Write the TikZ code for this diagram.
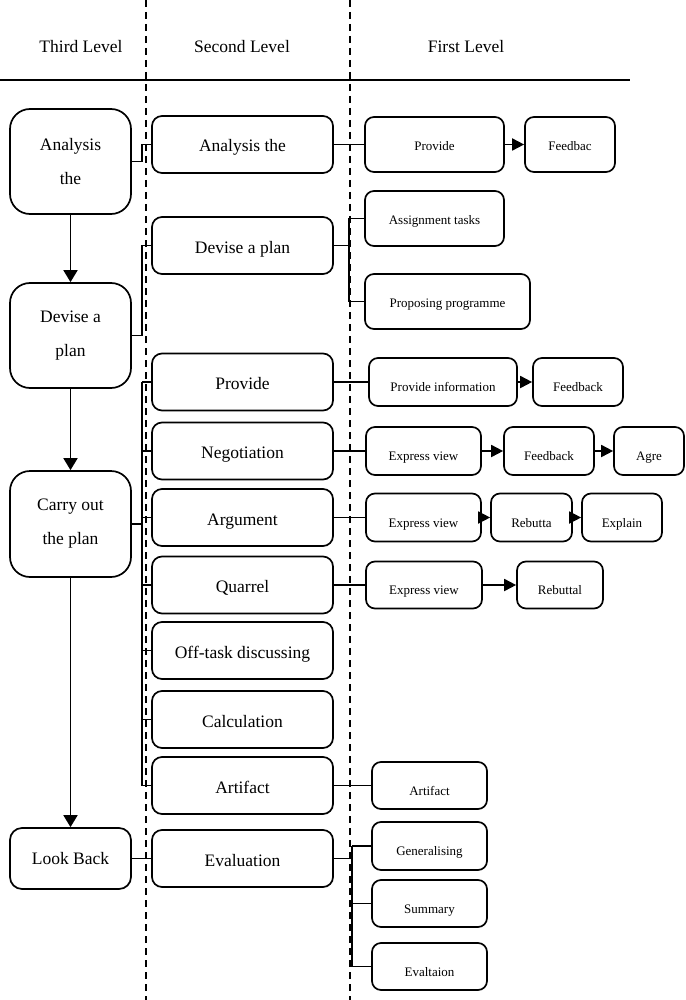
\documentclass[tikz,border=0pt]{standalone}
\usepackage{fontspec}
\setmainfont{Liberation Serif}
\usetikzlibrary{arrows.meta}
\begin{document}
\begin{tikzpicture}[x=1pt,y=-1pt,
  box/.style={draw, line width=1.7pt, rounded corners=10pt, inner sep=0pt},
  tbox/.style={box, rounded corners=20pt, minimum width=121pt, align=center, font=\fontsize{17.5}{34}\selectfont},
  sbox/.style={box, minimum width=181pt, minimum height=57pt, font=\fontsize{17.5}{21}\selectfont, text height=19pt, text depth=4pt},
  fbox/.style={box, rounded corners=9pt, minimum height=55pt, font=\fontsize{13}{16}\selectfont, text height=14.6pt, text depth=3pt},
  fboxlow/.style={fbox, minimum height=48pt, text height=22.6pt},
  ln/.style={line width=1.8pt},
  arr/.style={ln, -{Triangle[length=12pt,width=12pt]}},
  bigarr/.style={ln, -{Triangle[length=12pt,width=14pt]}},
  divider/.style={line width=1.4pt, dash pattern=on 7pt off 5pt},
  hdr/.style={font=\fontsize{17.5}{21}\selectfont, anchor=base, inner sep=0pt}
]
\useasboundingbox (0,0) rectangle (685,1000);

% dividers and header
\draw[divider] (146,0) -- (146,1000);
\draw[divider] (350,0) -- (350,1000);
\draw[ln] (0,80) -- (630,80);
\node[hdr] (h1) at (81,53) {Third Level};
\node[hdr] (h2) at (242,53) {Second Level};
\node[hdr] (h3) at (466,53) {First Level};

% third level
\node[tbox, minimum height=105pt] (t1) at (70.5,161.5) {Analysis\\the};
\node[tbox, minimum height=105pt] (t2) at (70.5,335.5) {Devise a\\plan};
\node[tbox, minimum height=106pt] (t3) at (70.5,524) {Carry out\\the plan};
\node[tbox, minimum height=61pt, rounded corners=12pt] (t4) at (70.5,858.5) {Look Back};

\draw[bigarr] (t1.south) -- (t2.north);
\draw[bigarr] (t2.south) -- (t3.north);
\draw[bigarr] (t3.south) -- (t4.north);

% second level
\node[sbox] (s1) at (242.5,144.5) {Analysis the};
\node[sbox] (s2) at (242.5,245.5) {Devise a plan};
\node[sbox] (s3) at (242.5,382) {Provide};
\node[sbox] (s4) at (242.5,451) {Negotiation};
\node[sbox] (s5) at (242.5,517.5) {Argument};
\node[sbox] (s6) at (242.5,585) {Quarrel};
\node[sbox] (s7) at (242.5,650.5) {Off-task discussing};
\node[sbox] (s8) at (242.5,719.5) {Calculation};
\node[sbox] (s9) at (242.5,785.5) {Artifact};
\node[sbox] (s10) at (242.5,858.5) {Evaluation};

\coordinate (busA) at (142,0);
\draw[ln] (t1.east) -| (busA |- s1.west) -- (s1.west);
\draw[ln] (t2.east) -| (busA |- s2.west) -- (s2.west);
\draw[ln] (t3.east) -- (t3.east -| busA);
\draw[ln] (busA |- s3.west) -- (busA |- s9.west);
\foreach \n in {s3,s4,s5,s6,s7,s8,s9}{
  \draw[ln] (busA |- \n.west) -- (\n.west);
}
\draw[ln] (t4.east) -- (s10.west);

% first level
\node[fbox, minimum width=139pt] (f1) at (434.5,144.5) {Provide};
\node[fbox, minimum width=90pt] (f2) at (570,144.5) {Feedbac};
\node[fbox, minimum width=139pt] (f3) at (434.5,218.5) {Assignment tasks};
\node[fbox, minimum width=165pt] (f4) at (447.5,301.5) {Proposing programme};

\node[fboxlow, minimum width=148pt] (f5) at (443,382) {Provide information};
\node[fboxlow, minimum width=90pt] (f6) at (578,382) {Feedback};

\node[fboxlow, minimum width=115pt] (f7) at (423.5,451) {Express view};
\node[fboxlow, minimum width=90pt] (f8) at (549,451) {Feedback};
\node[fboxlow, minimum width=70pt] (f9) at (649,451) {Agre};

\node[fboxlow, minimum width=115pt] (f10) at (423.5,517.5) {Express view};
\node[fboxlow, minimum width=81pt] (f11) at (531.5,517.5) {Rebutta};
\node[fboxlow, minimum width=80pt] (f12) at (622,517.5) {Explain};

\node[fboxlow, minimum width=116pt, minimum height=47pt] (f13) at (424,585) {Express view};
\node[fboxlow, minimum width=86pt, minimum height=47pt] (f14) at (560,585) {Rebuttal};

\node[fboxlow, minimum width=115pt, minimum height=47pt] (f15) at (429.5,785.5) {Artifact};
\node[fboxlow, minimum width=115pt] (f16) at (429.5,846) {Generalising};
\node[fboxlow, minimum width=115pt, minimum height=47pt] (f17) at (429.5,903.5) {Summary};
\node[fboxlow, minimum width=115pt, minimum height=47pt] (f18) at (429.5,966.5) {Evaltaion};

% second -> first connectors
\draw[ln] (s1.east) -- (f1.west);
\coordinate (busB) at (349,0);
\draw[ln] (s2.east) -- (s2.east -| busB);
\draw[ln] (busB |- f3.west) -- (busB |- f4.west);
\draw[ln] (busB |- f3.west) -- (f3.west);
\draw[ln] (busB |- f4.west) -- (f4.west);
\draw[ln] (s3.east) -- (f5.west);
\draw[ln] (s4.east) -- (f7.west);
\draw[ln] (s5.east) -- (f10.west);
\draw[ln] (s6.east) -- (f13.west);
\draw[ln] (s9.east) -- (f15.west);
\coordinate (busC) at (352,0);
\draw[ln] (s10.east) -- (s10.east -| busC);
\draw[ln] (busC |- f16.west) -- (busC |- f18.west);
\foreach \n in {f16,f17,f18}{
  \draw[ln] (busC |- \n.west) -- (\n.west);
}

% first-level arrows
\draw[arr] (f1.east) -- (f2.west);
\draw[arr] (f5.east) -- (f6.west);
\draw[arr] (f7.east) -- (f8.west);
\draw[arr] (f8.east) -- (f9.west);
\draw[arr] (f10.east) -- (f11.west);
\draw[arr] (f11.east) -- (f12.west);
\draw[arr] (f13.east) -- (f14.west);
\end{tikzpicture}
\end{document}
